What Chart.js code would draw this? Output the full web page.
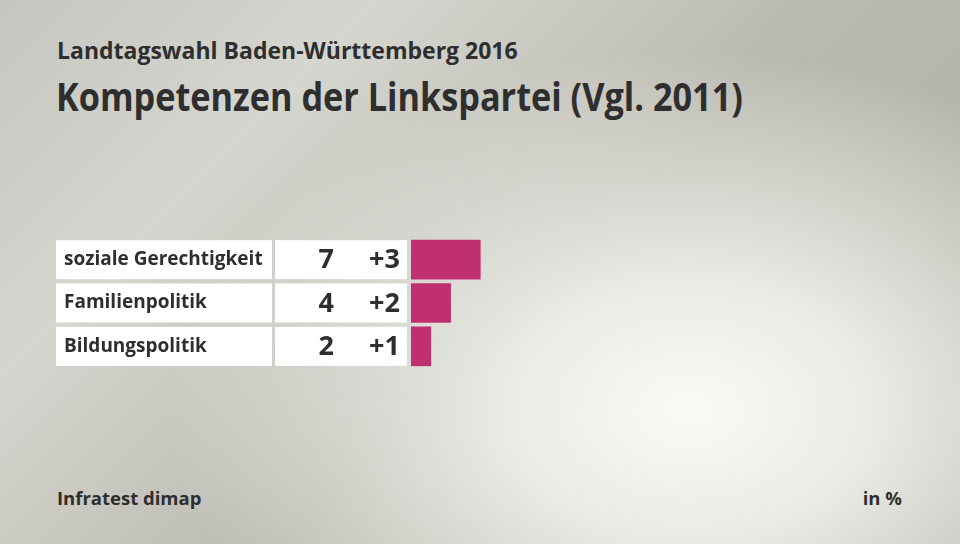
<!DOCTYPE html>
<html>
<head>
<meta charset="utf-8">
<script src="https://cdn.jsdelivr.net/npm/chart.js@4"></script>
<style>
  html, body { margin: 0; padding: 0; }
  body {
    width: 960px; height: 544px; overflow: hidden; position: relative;
    background:
      radial-gradient(ellipse 520px 360px at 690px 410px, rgba(250,250,246,1) 0%, rgba(240,241,236,0.9) 35%, rgba(240,241,236,0) 100%),
      linear-gradient(135deg, #c6c6c0 0%, #d6d6d0 25%, #bab9b1 55%, #b0afa7 100%);
    font-family: "Open Sans", sans-serif;
    color: #2e2e2e;
  }
  .txt { position: absolute; font-weight: bold; white-space: nowrap; transform-origin: left top; }
  #sub { left: 57px; top: 34px; font-size: 23px; }
  #title { left: 56px; top: 68px; font-size: 40px; transform: scaleX(0.856); }
  #src { left: 57px; top: 485px; font-size: 18.5px; }
  #unit { right: 58px; top: 485px; font-size: 18.5px; }
  #wrap { position: absolute; left: 0; top: 0; width: 960px; height: 544px; }
</style>
</head>
<body>
<div class="txt" id="sub">Landtagswahl Baden-Württemberg 2016</div>
<div class="txt" id="title">Kompetenzen der Linkspartei (Vgl. 2011)</div>
<div class="txt" id="src">Infratest dimap</div>
<div class="txt" id="unit">in %</div>
<div id="wrap"><canvas id="chart" width="960" height="544"></canvas></div>
<script>
// Daten
const themen = ['soziale Gerechtigkeit', 'Familienpolitik', 'Bildungspolitik'];
const werte = [7, 4, 2];
const diffs = ['+3', '+2', '+1'];

const ctx = document.getElementById('chart').getContext('2d');

// Beschriftungskästen links neben den Balken
const labelBoxes = {
    id: 'labelBoxes',
    beforeDatasetsDraw(chart) {
        const c = chart.ctx;
        const y = chart.scales.y;
        c.save();
        themen.forEach((name, i) => {
            const cy = y.getPixelForValue(i);
            const top = cy - 19.5;
            c.fillStyle = '#ffffff';
            c.fillRect(56, top, 216, 39);
            c.fillRect(275, top, 132, 39);
            c.fillStyle = '#2e2e2e';
            c.textBaseline = 'middle';
            c.textAlign = 'left';
            c.font = 'bold 19px "Open Sans", sans-serif';
            c.fillText(name, 64, cy);
            c.textAlign = 'right';
            c.font = 'bold 27px "Open Sans", sans-serif';
            c.fillText(String(werte[i]), 334, cy + 1);
            c.fillText(diffs[i], 400, cy + 1);
        });
        c.restore();
    }
};

new Chart(ctx, {
    type: 'bar',
    data: {
        labels: themen,
        datasets: [{
            data: werte,
            backgroundColor: '#c03070',
            barThickness: 39
        }]
    },
    options: {
        indexAxis: 'y',
        responsive: false,
        animation: false,
        layout: { padding: { left: 411, right: 54, top: 238, bottom: 176 } },
        plugins: { legend: { display: false }, tooltip: { enabled: false } },
        scales: {
            x: { display: false, min: 0, max: 50 },
            y: { display: false }
        }
    },
    plugins: [labelBoxes]
});
</script>
</body>
</html>
